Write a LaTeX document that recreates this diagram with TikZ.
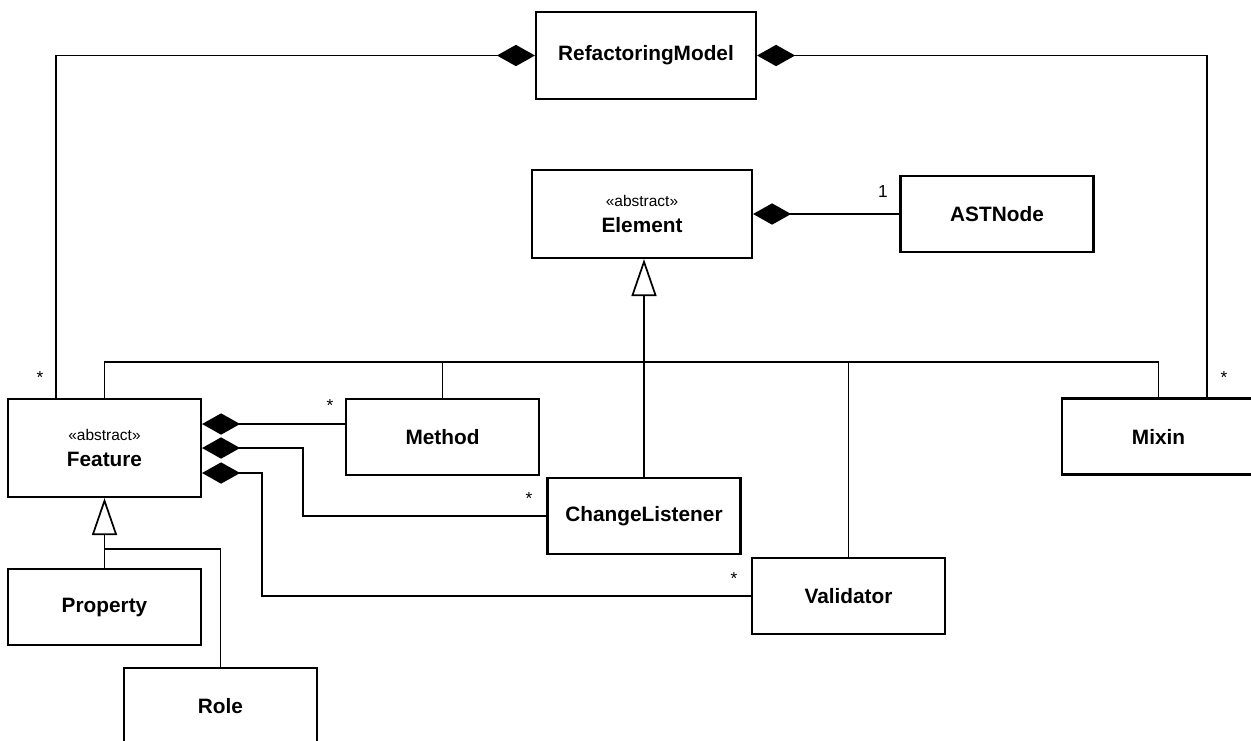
\documentclass[tikz,border=0pt]{standalone}
\usepackage{fontspec}
\setmainfont{Liberation Sans}
\usetikzlibrary{arrows.meta,calc}

\tikzset{
  cls/.style={draw, line width=1.6pt, fill=white, align=center,
              inner sep=0pt, minimum width=144.75pt, minimum height=57pt,
              font=\bfseries\fontsize{15.6}{18}\selectfont},
  conn/.style={line width=1.3pt},
  comp/.style={conn, {Diamond[length=28.5pt, width=16pt]}-},
  gen/.style={conn, -{Triangle[open, fill=white, length=27.75pt, width=18.75pt]}},
  mult/.style={font=\fontsize{13}{15}\selectfont, inner sep=0pt},
}
\newcommand{\stereo}[1]{{\mdseries\fontsize{11.6}{14}\selectfont\guillemotleft #1\guillemotright}\\[1pt]}

\begin{document}
\begin{tikzpicture}[x=0.75pt, y=-0.75pt]
  \useasboundingbox (0,0) rectangle (1251,740);
  \clip (0,0) rectangle (1251,740);

  % classes (pixel-style coordinates, y grows downwards)
  \node[cls, minimum width=165pt, minimum height=65.25pt] (RM) at (646,55.5) {RefactoringModel};
  \node[cls, minimum width=165pt, minimum height=66pt] (Element) at (642,214) {\stereo{abstract}Element};
  \node[cls] (AST) at (997,214) {ASTNode};
  \node[cls, minimum height=73.5pt] (Feature) at (104.5,448) {\stereo{abstract}Feature};
  \node[cls] (Method) at (442.5,437) {Method};
  \node[cls] (CL) at (644,516) {ChangeListener};
  \node[cls] (Validator) at (848.5,596) {Validator};
  \node[cls] (Mixin) at (1158.5,436.5) {Mixin};
  \node[cls] (Property) at (104.5,607) {Property};
  \node[cls] (Role) at (220.5,706) {Role};

  % bus of the Element hierarchy
  \coordinate (bus) at (0,362);

  % RefactoringModel compositions
  \draw[comp] (RM.west) -| ($(Feature.north)+(-48.5,0)$);
  \draw[comp] (RM.east) -| ($(Mixin.north)+(48.5,0)$);
  \node[mult] at (40,378) {*};
  \node[mult] at (1224,378) {*};

  % Element -- ASTNode
  \draw[comp] (Element.east) -- (AST.west);
  \node[mult] at (883,192) {1};

  % Element generalization
  \draw[gen] (CL.north) -- (CL.north |- Element.south);
  \draw[conn] (Feature.north) |- (Mixin.north |- bus) -- (Mixin.north);
  \draw[conn] (Method.north) -- (Method.north |- bus);
  \draw[conn] (Validator.north) -- (Validator.north |- bus);

  % Feature compositions
  \draw[comp] ($(Feature.east)+(0,-24)$) -- ($(Method.west)+(0,-13)$);
  \draw[comp] (Feature.east) -- ($(Feature.east)+(101,0)$) |- (CL.west);
  \draw[comp] ($(Feature.east)+(0,25)$) -- ($(Feature.east)+(60,25)$) |- (Validator.west);
  \node[mult] at (330,406) {*};
  \node[mult] at (529,499) {*};
  \node[mult] at (734,579) {*};

  % Feature generalization
  \draw[gen] (Property.north) -- (Feature.south);
  \draw[conn] (Role.north) |- ($(Property.north)+(0,-19)$);
\end{tikzpicture}
\end{document}
